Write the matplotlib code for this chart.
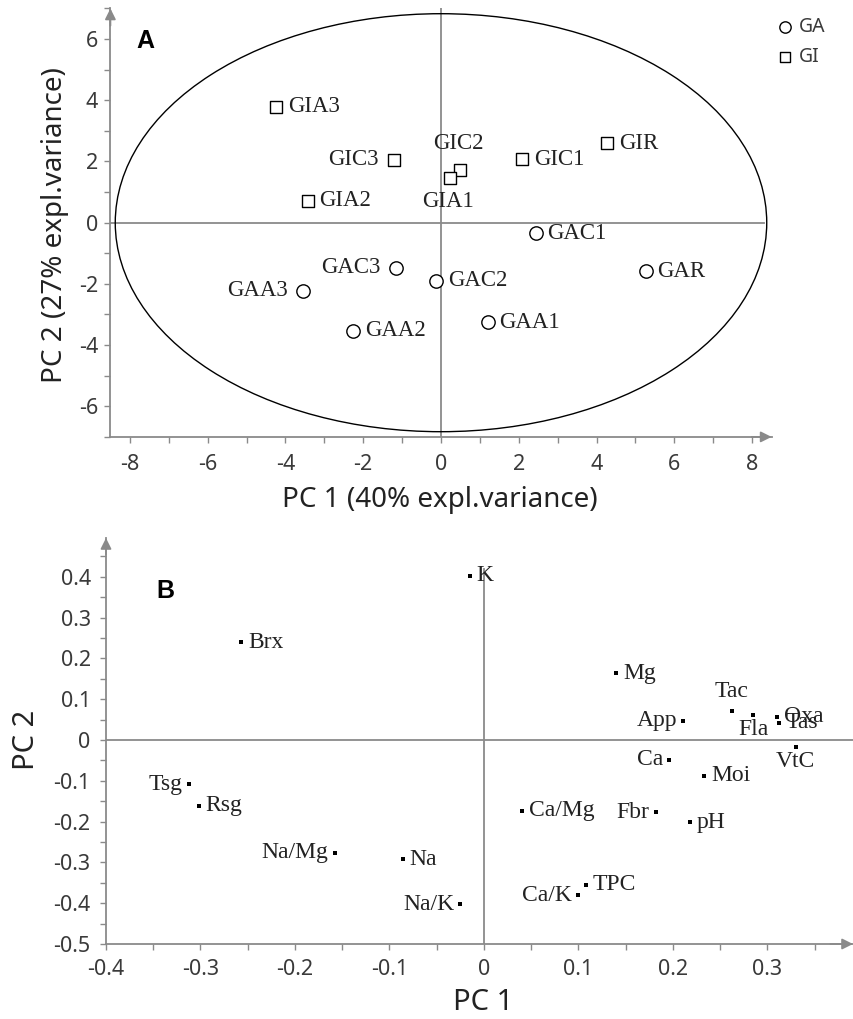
import matplotlib
matplotlib.use("Agg")
import matplotlib.pyplot as plt
from matplotlib.patches import Ellipse
from matplotlib.ticker import MultipleLocator, FuncFormatter

plt.rcParams['axes.unicode_minus'] = False

# ---------------- Panel A data (scores) ----------------
ga_names = ['GAC1', 'GAC3', 'GAA3', 'GAA2', 'GAC2', 'GAR', 'GAA1']
ga_pc1 = [2.43, -1.16, -3.54, -2.25, -0.13, 5.26, 1.20]
ga_pc2 = [-0.35, -1.47, -2.22, -3.53, -1.90, -1.58, -3.25]

gi_names = ['GIA3', 'GIC3', 'GIA2', 'GIC2', 'GIA1', 'GIC1', 'GIR']
gi_pc1 = [-4.24, -1.21, -3.43, 0.49, 0.23, 2.09, 4.28]
gi_pc2 = [3.79, 2.05, 0.71, 1.72, 1.45, 2.08, 2.59]

ellipse_width = 16.75
ellipse_height = 13.66

# ---------------- Panel B data (loadings) ----------------
var_names = ['K', 'Brx', 'Mg', 'Tac', 'Fla', 'Oxa', 'Tas', 'App', 'VtC', 'Ca',
             'Moi', 'Ca/Mg', 'Fbr', 'pH', 'TPC', 'Ca/K', 'Na', 'Na/K', 'Tsg',
             'Rsg', 'Na/Mg']
var_pc1 = [-0.015, -0.257, 0.140, 0.262, 0.285, 0.310, 0.312, 0.211, 0.330, 0.196,
           0.233, 0.040, 0.182, 0.218, 0.108, 0.100, -0.086, -0.025, -0.312,
           -0.302, -0.158]
var_pc2 = [0.402, 0.239, 0.163, 0.071, 0.062, 0.057, 0.042, 0.047, -0.016, -0.049,
           -0.088, -0.173, -0.177, -0.202, -0.355, -0.380, -0.292, -0.403, -0.109,
           -0.161, -0.276]

# label placement (style only)
a_place = {'GIA3': 'r', 'GIC3': 'l', 'GIA2': 'r', 'GIC2': 'u', 'GIA1': 'd',
           'GIC1': 'r', 'GIR': 'r', 'GAC1': 'r', 'GAC3': 'l', 'GAA3': 'l',
           'GAA2': 'r', 'GAC2': 'r', 'GAR': 'r', 'GAA1': 'r'}
b_place = {'K': 'r', 'Brx': 'r', 'Mg': 'r', 'Tac': 'u', 'Fla': 'd', 'Oxa': 'r',
           'Tas': 'r', 'App': 'l', 'VtC': 'd', 'Ca': 'l', 'Moi': 'r', 'Ca/Mg': 'r',
           'Fbr': 'l', 'pH': 'r', 'TPC': 'r', 'Ca/K': 'l', 'Na': 'r', 'Na/K': 'l',
           'Tsg': 'l', 'Rsg': 'r', 'Na/Mg': 'l'}

SANS = ['Noto Sans', 'DejaVu Sans']
BOLD = ['Liberation Sans', 'DejaVu Sans']
SERIF = ['Liberation Serif', 'DejaVu Serif']
AXC = '#8a8a8a'
TXC = '#3a3a3a'

W, H = 854, 1019
fig = plt.figure(figsize=(W / 100, H / 100), dpi=100)


def px_axes(l, r, t, b):
    return fig.add_axes([l / W, (H - b) / H, (r - l) / W, (b - t) / H])


def style_axes(ax):
    for s in ['top', 'right']:
        ax.spines[s].set_visible(False)
    for s in ['left', 'bottom']:
        ax.spines[s].set_color(AXC)
        ax.spines[s].set_linewidth(1.3)
    ax.tick_params(which='both', direction='out', color=AXC, width=1.0,
                   length=4, labelcolor=TXC, labelsize=15.5)
    for lab in ax.get_xticklabels() + ax.get_yticklabels():
        lab.set_family(SANS)
    ax.annotate('', xy=(1.0, 0), xytext=(0.97, 0), xycoords='axes fraction',
                arrowprops=dict(arrowstyle='-|>', color=AXC, lw=1.3,
                                mutation_scale=16, shrinkA=0, shrinkB=0))
    ax.annotate('', xy=(0, 1.0), xytext=(0, 0.96), xycoords='axes fraction',
                arrowprops=dict(arrowstyle='-|>', color=AXC, lw=1.3,
                                mutation_scale=16, shrinkA=0, shrinkB=0))


def fmt(v, pos):
    if abs(v) < 1e-9:
        return '0'
    if abs(v - round(v)) < 1e-9:
        return '%d' % round(v)
    return '%.1f' % v


# ================= Panel A =================
axA = px_axes(110.4, 771.6, 8.5, 436.9)
axA.set_xlim(-8.5, 8.5)
axA.set_ylim(-7, 7)
axA.xaxis.set_major_locator(MultipleLocator(2))
axA.xaxis.set_minor_locator(MultipleLocator(1))
axA.yaxis.set_major_locator(MultipleLocator(2))
axA.yaxis.set_minor_locator(MultipleLocator(1))
axA.xaxis.set_major_formatter(FuncFormatter(fmt))
axA.yaxis.set_major_formatter(FuncFormatter(fmt))
style_axes(axA)
axA.tick_params(axis='x', which='major', pad=8)
axA.tick_params(axis='y', which='major', pad=5)

axA.plot([-8.5, 8.3], [0, 0], color=AXC, lw=1.3, zorder=1)
axA.plot([0, 0], [-7, 7], color=AXC, lw=1.3, zorder=1)
axA.add_patch(Ellipse((0, 0), ellipse_width, ellipse_height, fill=False,
                      ec='black', lw=1.0, zorder=2))

hA = axA.scatter(ga_pc1, ga_pc2, marker='o', s=9.6 ** 2, facecolors='white',
                 edgecolors='black', linewidths=1.0, zorder=3, label='GA')
hI = axA.scatter(gi_pc1, gi_pc2, marker='s', s=8.4 ** 2, facecolors='white',
                 edgecolors='black', linewidths=1.0, zorder=3, label='GI')

offA = {'r': ((8.6, 0), 'left', 'center'), 'l': ((-10.8, 0), 'right', 'center'),
        'u': ((-1.5, 19), 'center', 'center'), 'd': ((-1.5, -16.5), 'center', 'center')}
for names, xs, ys in [(ga_names, ga_pc1, ga_pc2), (gi_names, gi_pc1, gi_pc2)]:
    for n, x, y in zip(names, xs, ys):
        off, ha, va = offA[a_place[n]]
        axA.annotate(n, (x, y), xytext=off, textcoords='offset points', ha=ha,
                     va=va, family=SERIF, fontsize=16.5, color='#222222', zorder=4)

fig.text(145 / W, 1 - 41.5 / H, 'A', ha='center', va='center',
         fontsize=18, fontweight='bold', family=BOLD, color='black')

leg = axA.legend(handles=[hA, hI], loc='upper left', frameon=False,
                 bbox_to_anchor=(775 / W, 1 - 17 / H), bbox_transform=fig.transFigure,
                 prop={'family': SANS, 'size': 14}, markerscale=0.85,
                 handletextpad=0.25, labelspacing=0.5, handlelength=1.0,
                 borderaxespad=0, borderpad=0)
for t in leg.get_texts():
    t.set_color(TXC)

fig.text(440 / W, 1 - 500 / H, 'PC 1 (40% expl.variance)', ha='center', va='center',
         fontsize=20, family=SANS, color='#222222')
fig.text(55 / W, 1 - 225 / H, 'PC 2 (27% expl.variance)', ha='center', va='center',
         rotation=90, fontsize=20, family=SANS, color='#222222')

# ================= Panel B =================
axB = px_axes(106, 853, 538, 944)
axB.set_xlim(-0.4, 0.3905)
axB.set_ylim(-0.5, 0.495)
axB.xaxis.set_major_locator(MultipleLocator(0.1))
axB.xaxis.set_minor_locator(MultipleLocator(0.05))
axB.yaxis.set_major_locator(MultipleLocator(0.1))
axB.yaxis.set_minor_locator(MultipleLocator(0.05))
axB.xaxis.set_major_formatter(FuncFormatter(fmt))
axB.yaxis.set_major_formatter(FuncFormatter(fmt))
style_axes(axB)
axB.tick_params(axis='x', which='major', pad=7)
axB.tick_params(axis='y', which='major', pad=7)

axB.plot([-0.4, 0.3905], [0, 0], color=AXC, lw=1.3, zorder=1)
axB.plot([0, 0], [-0.5, 0.42], color=AXC, lw=1.3, zorder=1)

axB.scatter(var_pc1, var_pc2, marker='s', s=2.2 ** 2, color='black', lw=0, zorder=3)
offB = {'r': ((5, 0), 'left', 'center'), 'l': ((-4.5, 0), 'right', 'center'),
        'u': ((0, 14), 'center', 'center'), 'd': ((0, -11), 'center', 'center')}
for n, x, y in zip(var_names, var_pc1, var_pc2):
    off, ha, va = offB[b_place[n]]
    axB.annotate(n, (x, y), xytext=off, textcoords='offset points', ha=ha, va=va,
                 family=SERIF, fontsize=17, color='#222222', zorder=4)

fig.text(165 / W, 1 - 591 / H, 'B', ha='center', va='center', fontsize=18,
         fontweight='bold', family=BOLD, color='black')
fig.text(483 / W, 1 - 1003 / H, 'PC 1', ha='center', va='center', fontsize=21,
         family=SANS, color='#222222')
fig.text(27 / W, 1 - 740 / H, 'PC 2', ha='center', va='center', rotation=90,
         fontsize=21, family=SANS, color='#222222')

fig.savefig('out.png', dpi=100)
